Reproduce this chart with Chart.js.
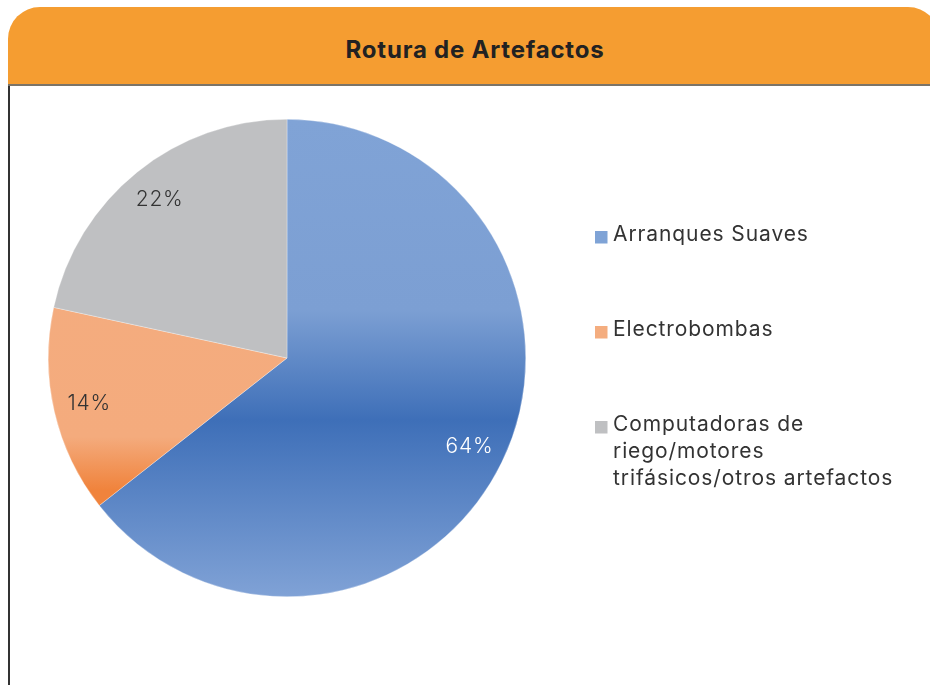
<!DOCTYPE html>
<html>
<head>
<meta charset="utf-8">
<script src="https://cdn.jsdelivr.net/npm/chart.js@4.4.1/dist/chart.umd.min.js"></script>
<style>
  html, body { margin: 0; padding: 0; background: #fff; width: 930px; height: 685px; overflow: hidden; }
  #header {
    position: absolute; left: 8px; top: 7px; width: 932px; height: 77px;
    background: #f59d31; border-radius: 32px 32px 0 0;
    border-bottom: 2px solid #7b7468;
  }
  #title {
    position: absolute; left: 0; top: 8px; width: 930px; height: 84px; line-height: 84px;
    text-align: center; font-family: "Inter", "Noto Sans", sans-serif; font-weight: 700;
    font-size: 24px; letter-spacing: 0.8px; color: #222; padding-left: 20px; box-sizing: border-box;
  }
  #leftline { position: absolute; left: 8px; top: 86px; width: 1.5px; height: 600px; background: #333; }
  #c { position: absolute; left: 0; top: 0; }
</style>
</head>
<body>
<div id="header"></div>
<div id="title">Rotura de Artefactos</div>
<div id="leftline"></div>
<canvas id="c" width="930" height="685"></canvas>
<script>
const categories = ['Arranques Suaves', 'Electrobombas', ['Computadoras de', 'riego/motores', 'trifásicos/otros artefactos']];
const values = [64.4, 14.0, 21.6];
const valueLabels = ['64%', '14%', '22%'];

const swatchColors = ['#7fa3d6', '#f4ad7f', '#bfc0c2'];
const labelColors = ['#ffffff', '#333333', '#333333'];
const FONT = '"Inter", "Noto Sans", sans-serif';

function sliceFill(ctx) {
  const chart = ctx.chart;
  const area = chart.chartArea;
  if (!area) return swatchColors[ctx.dataIndex];
  const g = chart.ctx.createLinearGradient(0, area.top, 0, area.bottom);
  if (ctx.dataIndex === 0) {
    g.addColorStop(0, '#80a3d6');
    g.addColorStop(0.40, '#7c9fd3');
    g.addColorStop(0.63, '#3e6fb8');
    g.addColorStop(1, '#80a2d6');
    return g;
  }
  if (ctx.dataIndex === 1) {
    g.addColorStop(0, '#f4ad80');
    g.addColorStop(0.665, '#f4ab7d');
    g.addColorStop(0.776, '#f0833c');
    g.addColorStop(1, '#f0833c');
    return g;
  }
  return '#bfc0c2';
}

const sliceLabels = {
  id: 'sliceLabels',
  afterDatasetsDraw(chart) {
    const c = chart.ctx;
    const meta = chart.getDatasetMeta(0);
    c.save();
    c.font = '300 21px ' + FONT;
    c.letterSpacing = '0.8px';
    c.textAlign = 'center';
    c.textBaseline = 'middle';
    meta.data.forEach((arc, i) => {
      const p = arc.getProps(['startAngle', 'endAngle', 'outerRadius', 'x', 'y'], true);
      const mid = (p.startAngle + p.endAngle) / 2;
      const r = p.outerRadius * 0.85;
      c.fillStyle = labelColors[i];
      c.fillText(valueLabels[i], p.x + Math.cos(mid) * r, p.y + Math.sin(mid) * r);
    });
    c.restore();
  }
};

const sideLegend = {
  id: 'sideLegend',
  afterDraw(chart) {
    const c = chart.ctx;
    const labels = chart.data.labels;
    const firstY = [235, 330, 425];
    const lineH = 27;
    c.save();
    c.font = '400 21px ' + FONT;
    c.letterSpacing = '0.9px';
    c.textBaseline = 'middle';
    c.textAlign = 'left';
    labels.forEach((lab, i) => {
      const lines = Array.isArray(lab) ? lab : [lab];
      const y0 = firstY[i];
      c.fillStyle = swatchColors[i];
      c.fillRect(595, y0 - 4, 12.5, 12.5);
      c.fillStyle = '#333333';
      lines.forEach((t, k) => c.fillText(t, 613, y0 + k * lineH));
    });
    c.restore();
  }
};

new Chart(document.getElementById('c'), {
  type: 'pie',
  data: {
    labels: categories,
    datasets: [{
      data: values,
      backgroundColor: sliceFill,
      borderColor: 'rgba(255,255,255,0.6)',
      borderWidth: 0.5
    }]
  },
  options: {
    responsive: false,
    animation: false,
    layout: { padding: { left: 48, top: 119, right: 404, bottom: 88 } },
    plugins: { legend: { display: false }, tooltip: { enabled: false }, title: { display: false } }
  },
  plugins: [sliceLabels, sideLegend]
});
</script>
</body>
</html>
